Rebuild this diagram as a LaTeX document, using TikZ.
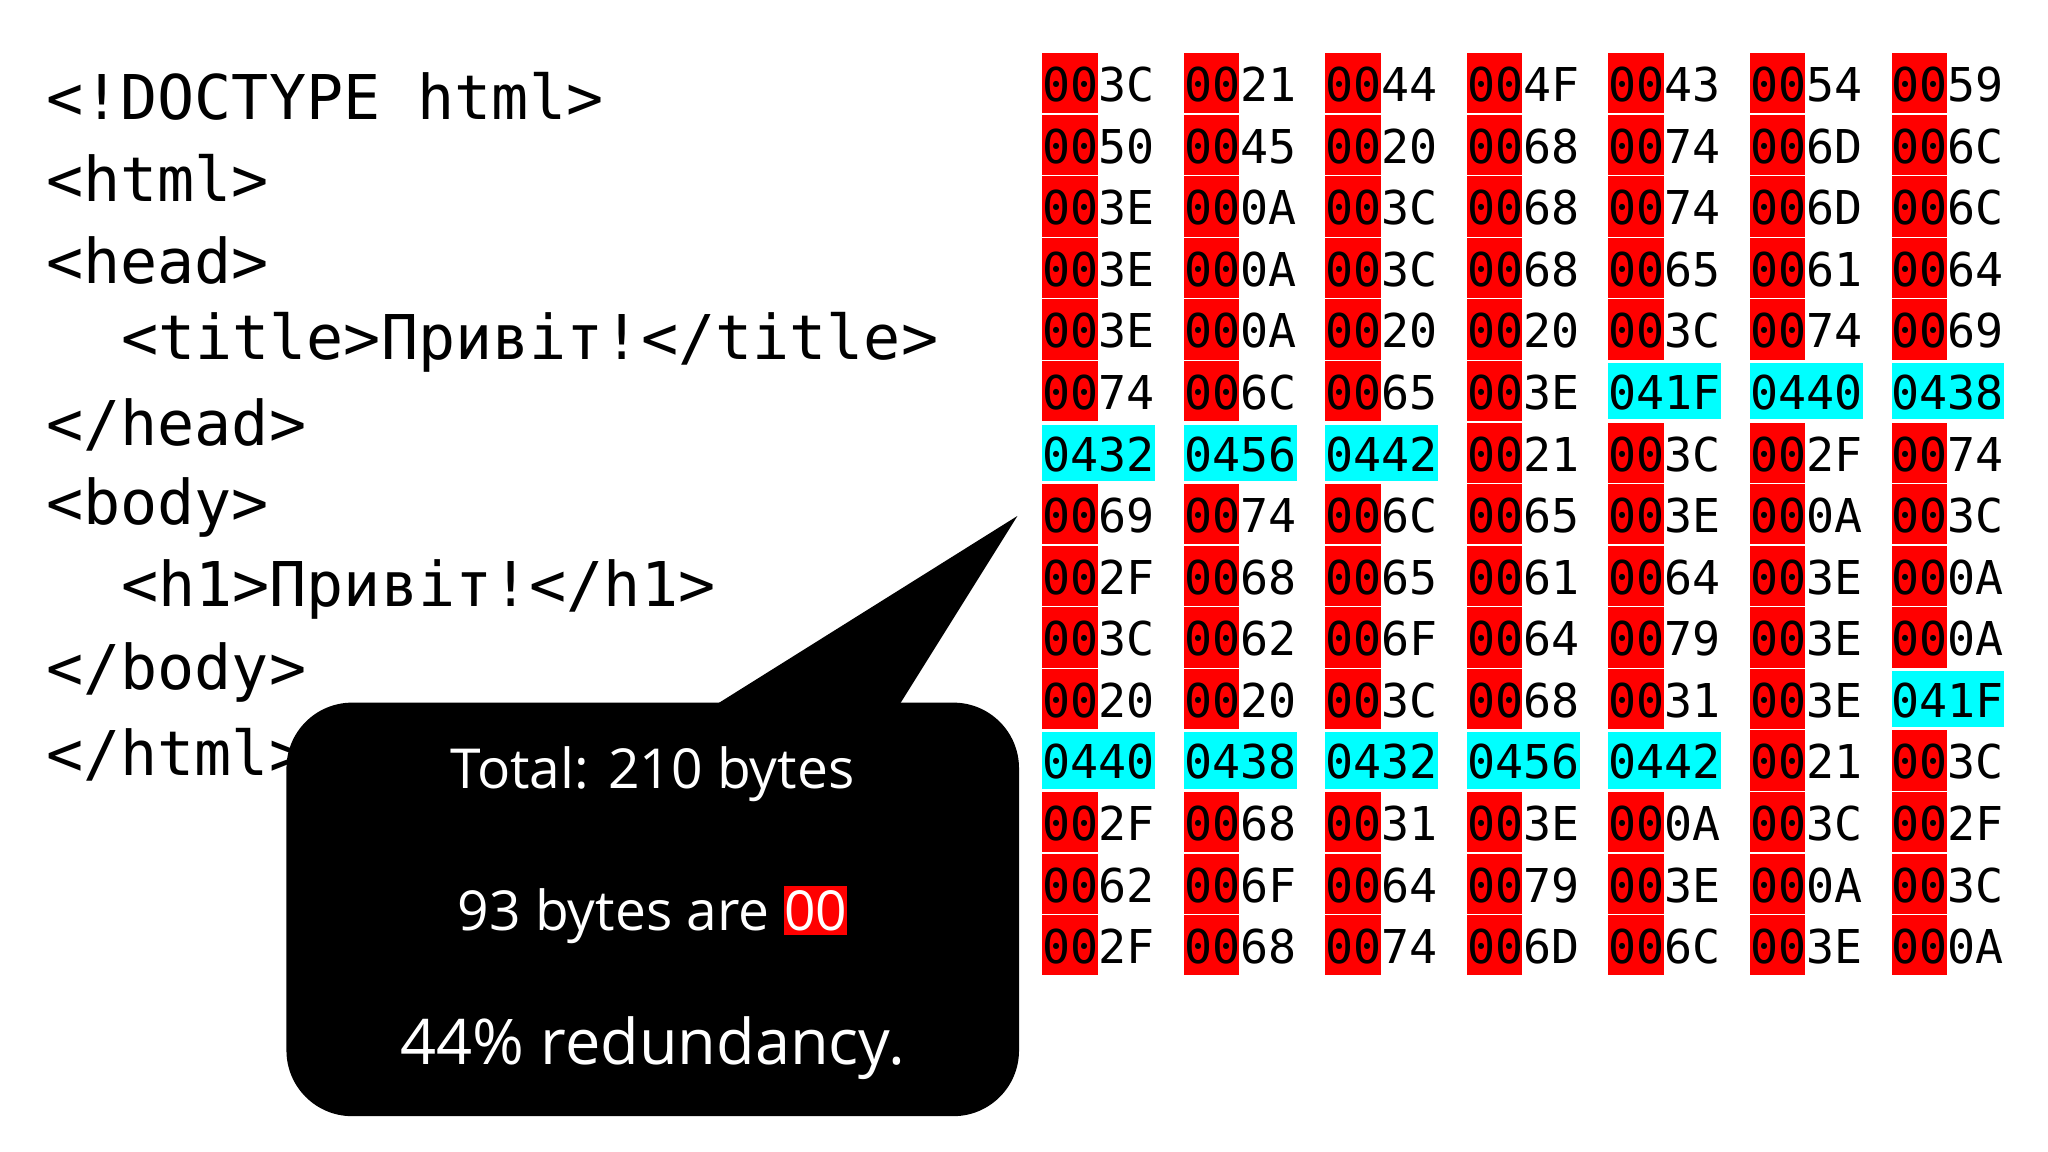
\documentclass[tikz,border=0pt]{standalone}
\usepackage{fontspec}
\setmainfont{Open Sans}
\newfontfamily\codefont{DejaVu Sans Mono}
\definecolor{hexred}{RGB}{255,0,0}
\definecolor{hexcyan}{RGB}{0,255,255}
\begin{document}
\begin{tikzpicture}[x=1pt,y=1pt,
  codeline/.style={anchor=west,inner sep=0pt,font=\codefont\fontsize{47}{47}\selectfont},
  hexcell/.style={anchor=west,inner sep=0pt,font=\codefont\fontsize{35.5}{35.5}\selectfont},
  calltext/.style={text=white,inner sep=0pt,font=\fontsize{42}{42}\selectfont}]
\useasboundingbox (0,0) rectangle (1560,-877.5);
\fill[white] (0,0) rectangle (1560,-877.5);
% code
\foreach \txt/\ind [count=\i] in {{<!DOCTYPE html>}/0,{<html>}/0,{<head>}/0,{<title>Привіт!</title>}/2,{</head>}/0,{<body>}/0,{<h1>Привіт!</h1>}/2,{</body>}/0,{</html>}/0}
  \node[codeline] (code\i) at (35+28.5*\ind,{-73-62.7*(\i-1)}) {\txt};
% grid
\foreach \row [count=\r] in {
 {0/3C,0/21,0/44,0/4F,0/43,0/54,0/59},
 {0/50,0/45,0/20,0/68,0/74,0/6D,0/6C},
 {0/3E,0/0A,0/3C,0/68,0/74,0/6D,0/6C},
 {0/3E,0/0A,0/3C,0/68,0/65,0/61,0/64},
 {0/3E,0/0A,0/20,0/20,0/3C,0/74,0/69},
 {0/74,0/6C,0/65,0/3E,1/041F,1/0440,1/0438},
 {1/0432,1/0456,1/0442,0/21,0/3C,0/2F,0/74},
 {0/69,0/74,0/6C,0/65,0/3E,0/0A,0/3C},
 {0/2F,0/68,0/65,0/61,0/64,0/3E,0/0A},
 {0/3C,0/62,0/6F,0/64,0/79,0/3E,0/0A},
 {0/20,0/20,0/3C,0/68,0/31,0/3E,1/041F},
 {1/0440,1/0438,1/0432,1/0456,1/0442,0/21,0/3C},
 {0/2F,0/68,0/31,0/3E,0/0A,0/3C,0/2F},
 {0/62,0/6F,0/64,0/79,0/3E,0/0A,0/3C},
 {0/2F,0/68,0/74,0/6D,0/6C,0/3E,0/0A}}{
  \foreach \t/\v [count=\c] in \row {
    \pgfmathsetmacro{\xx}{794+107.8*(\c-1)}
    \pgfmathsetmacro{\yy}{-40-46.9*(\r-1)}
    \ifnum\t=1
      \fill[hexcyan] (\xx,\yy-2) rectangle (\xx+86,\yy-45);
      \node[hexcell] (c-\r-\c) at (\xx,\yy-24.5) {\v};
    \else
      \fill[hexred] (\xx,\yy-0.5) rectangle (\xx+42,\yy-46.4);
      \node[hexcell] (c-\r-\c) at (\xx,\yy-24.5) {00\v};
    \fi
  }
}
% callout
\fill[black] (545,-537) -- (775,-393) -- (685,-537) -- cycle;
\node[fill=black,rounded corners=50pt,minimum width=558pt,minimum height=315pt,inner sep=0pt,anchor=north west] (bubble) at (218,-535) {};
\node[calltext] (t1) at (497,-590) {Total: 210 bytes};
\node[calltext] (t2) at (497,-697) {93 bytes are \colorbox{hexred}{\hspace{-3pt}00\hspace{-3pt}}};
\node[calltext,font=\fontsize{48}{48}\selectfont] (t3) at (497,-798) {44\% redundancy.};
\end{tikzpicture}
\end{document}
